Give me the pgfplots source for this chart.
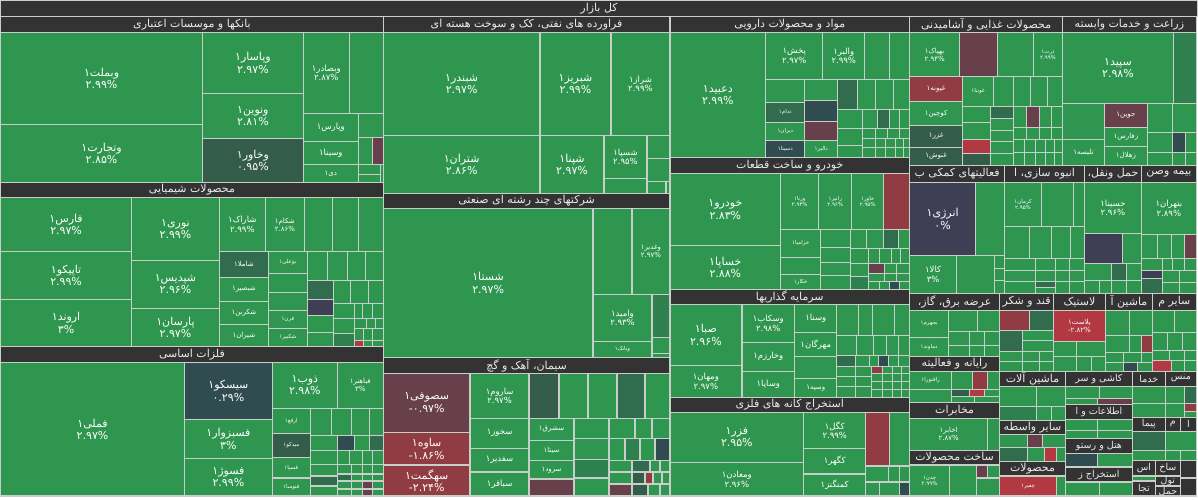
\documentclass[border=0pt]{standalone}
\usepackage{pgfplots}
\pgfplotsset{compat=1.18}
\usepackage{fontspec}
\newfontfamily\fa[Script=Arabic]{DejaVu Sans}
\TeXXeTstate=1
\definecolor{g}{RGB}{47,150,80}
\definecolor{g2}{RGB}{46,128,78}
\definecolor{dg}{RGB}{50,108,78}
\definecolor{dg2}{RGB}{51,93,74}
\definecolor{sl}{RGB}{48,76,80}
\definecolor{nu}{RGB}{62,62,84}
\definecolor{mr}{RGB}{104,64,76}
\definecolor{rd}{RGB}{145,60,66}
\definecolor{rr}{RGB}{178,56,66}
\definecolor{hdr}{RGB}{51,51,51}
\definecolor{bord}{RGB}{200,206,200}
\tikzset{
  lab/.style={text=white, align=center, inner sep=0pt},
  hlab/.style={text=white!92!black, inner sep=0pt, font=\fa\fontsize{11}{13}\selectfont},
  hsm/.style={text=white!92!black, inner sep=0pt, font=\fa\fontsize{9.5}{11}\selectfont},
  big/.style={font=\fa\fontsize{11}{12.5}\selectfont},
  med/.style={font=\fa\fontsize{8.5}{9.5}\selectfont},
  sm/.style={font=\fa\fontsize{7}{8}\selectfont},
  xs/.style={font=\fa\fontsize{5.5}{6}\selectfont},
}
\pgfplotsset{tile/.style={draw=bord, line width=1.3pt, line cap=rect, line join=miter}}
\newcommand\Ta[5]{\addplot[tile,fill=#5] coordinates {(#1,#2) (#3,#2) (#3,#4) (#1,#4) (#1,#2)};}
\newcommand\Tn[7]{\Ta{#1}{#2}{#3}{#4}{#5}\node[lab,#7] at (axis cs:{(#1+#3)/2},{(#2+#4)/2}) {\beginR #6\endR};}
\newcommand\Tl[8]{\Ta{#1}{#2}{#3}{#4}{#5}\node[lab,#8] at (axis cs:{(#1+#3)/2},{(#2+#4)/2}) {\beginR #6\endR\\#7};}
\newcommand\Hd[5]{\Ta{#1}{#2}{#3}{#4}{hdr}\node[hlab] at (axis cs:{(#1+#3)/2},{(#2+#4)/2}) {\beginR #5\endR};}
\newcommand\Hs[5]{\Ta{#1}{#2}{#3}{#4}{hdr}\node[hsm] at (axis cs:{(#1+#3)/2},{(#2+#4)/2}) {\beginR #5\endR};}
\newcommand\mn{-\kern0pt}
\begin{document}
\begin{tikzpicture}
\begin{axis}[width=1198pt,height=499pt,scale only axis,xmin=0,xmax=1198,ymin=0,ymax=499,y dir=reverse,axis lines=none,clip=false]
\addplot[fill=white,draw=none] coordinates {(0,0) (1198,0) (1198,499) (0,499) (0,0)};
\Hd{0}{0}{1198}{16}{کل بازار}
% ---------------- column 1: banks
\Hd{0}{16}{383}{32}{بانکها و موسسات اعتباری}
\Tl{0}{32}{202}{124}{g}{وبملت۱}{۲.۹۹\%}{big}
\Tl{0}{124}{202}{182}{g}{وتجارت۱}{۲.۸۵\%}{big}
\Tl{202}{32}{303}{93}{g}{وپاسار۱}{۲.۹۷\%}{big}
\Tl{202}{93}{303}{138}{g}{ونوین۱}{۲.۸۱\%}{big}
\Tl{202}{138}{303}{182}{dg2}{وخاور۱}{۰.۹۵\%}{big}
\Tl{303}{32}{349}{113}{g}{وبصادر۱}{۲.۸۷\%}{med}
\Ta{349}{32}{383}{113}{g}
\Tn{303}{113}{358}{141}{g}{وپارس۱}{med}
\Tn{303}{141}{358}{164}{g}{وسینا۱}{med}
\Tn{303}{164}{358}{182}{g}{دی۱}{sm}
\Ta{358}{113}{383}{137}{g}
\Ta{358}{137}{372}{164}{g}
\Ta{372}{137}{383}{164}{mr}
\Ta{358}{164}{380}{174}{g}
\Ta{358}{174}{380}{182}{g}
\Ta{380}{164}{383}{182}{g}
% chemicals
\Hd{0}{182}{383}{197}{محصولات شیمیایی}
\Tl{0}{197}{131}{251}{g}{فارس۱}{۲.۹۷\%}{big}
\Tl{0}{251}{131}{299}{g}{تاپیکو۱}{۲.۹۹\%}{big}
\Tl{0}{299}{131}{346}{g}{اروند۱}{۳\%}{big}
\Tl{131}{197}{219}{260}{g}{نوری۱}{۲.۹۹\%}{big}
\Tl{131}{260}{219}{308}{g}{شپدیس۱}{۲.۹۶\%}{big}
\Tl{131}{308}{219}{346}{g}{پارسان۱}{۲.۹۷\%}{big}
\Tl{219}{197}{265}{251}{g}{شاراک۱}{۲.۹۹\%}{med}
\Tl{265}{197}{304}{251}{g}{شکام۱}{۲.۸۶\%}{sm}
\Ta{304}{197}{332}{251}{g}
\Ta{332}{197}{358}{251}{g}
\Ta{358}{197}{383}{251}{g}
\Tn{219}{251}{268}{277}{dg}{شاملا۱}{sm}
\Tn{219}{277}{268}{301}{g}{شبصیر۱}{sm}
\Tn{219}{301}{268}{324}{g}{شکربن۱}{sm}
\Tn{219}{324}{268}{346}{g}{شیران۱}{sm}
\Tn{268}{251}{307}{273}{g}{بوعلی۱}{xs}
\Ta{268}{273}{307}{292}{g}
\Ta{268}{292}{307}{310}{g}
\Tn{268}{310}{307}{328}{g}{قرن۱}{xs}
\Tn{268}{328}{307}{346}{g}{شکبیر۱}{xs}
\Ta{307}{251}{327}{280}{g} \Ta{327}{251}{347}{280}{g} \Ta{347}{251}{365}{280}{g} \Ta{365}{251}{383}{280}{g}
\Ta{307}{280}{333}{299}{dg} \Ta{333}{280}{350}{303}{g} \Ta{350}{280}{368}{303}{g} \Ta{368}{280}{383}{303}{g}
\Ta{307}{299}{333}{315}{nu}
\Ta{307}{315}{333}{332}{g}
\Ta{307}{332}{333}{346}{g}
\Ta{333}{303}{354}{318}{g} \Ta{354}{303}{362}{318}{g} \Ta{362}{303}{372}{318}{g} \Ta{372}{303}{383}{318}{g}
\Ta{333}{318}{354}{333}{g} \Ta{354}{318}{366}{328}{g} \Ta{366}{318}{375}{328}{g} \Ta{375}{318}{383}{328}{g}
\Ta{333}{333}{354}{346}{g2} \Ta{354}{328}{363}{340}{g} \Ta{363}{328}{372}{340}{g} \Ta{372}{328}{383}{340}{g}
\Ta{354}{340}{363}{346}{rr} \Ta{363}{340}{372}{346}{g} \Ta{372}{340}{383}{346}{g}
% metals
\Hd{0}{346}{383}{362}{فلزات اساسی}
\Tl{0}{362}{184}{496}{g}{فملی۱}{۲.۹۷\%}{big}
\Tl{184}{362}{272}{419}{sl}{سیسکو۱}{۰.۲۹\%}{big}
\Tl{184}{419}{272}{458}{g}{فسبزوار۱}{۳\%}{big}
\Tl{184}{458}{272}{496}{g}{فسوژ۱}{۲.۹۹\%}{big}
\Tl{272}{362}{337}{408}{g}{ذوب۱}{۲.۹۸\%}{big}
\Tl{337}{362}{383}{408}{g}{فباهنر۱}{۳\%}{sm}
\Tn{272}{408}{310}{433}{g}{ارفع۱}{xs}
\Tn{272}{433}{310}{457}{dg2}{میدکو۱}{xs}
\Tn{272}{457}{310}{478}{g}{فسپا۱}{xs}
\Tn{272}{478}{310}{496}{g}{فنوسا۱}{xs}
\Ta{310}{408}{331}{435}{g} \Ta{331}{408}{351}{435}{g} \Ta{351}{408}{369}{435}{g} \Ta{369}{408}{383}{435}{g}
\Ta{310}{435}{337}{450}{g} \Ta{337}{435}{354}{450}{sl} \Ta{354}{435}{369}{450}{g} \Ta{369}{435}{383}{450}{dg}
\Ta{310}{450}{337}{464}{g} \Ta{337}{450}{349}{464}{g} \Ta{349}{450}{362}{464}{g} \Ta{362}{450}{372}{464}{g} \Ta{372}{450}{383}{464}{g}
\Ta{310}{464}{337}{476}{g} \Ta{310}{476}{337}{486}{dg} \Ta{310}{486}{337}{496}{g}
\Ta{337}{464}{351}{474}{g} \Ta{351}{464}{362}{474}{g} \Ta{362}{464}{372}{474}{g} \Ta{372}{464}{383}{474}{g}
\Ta{337}{474}{351}{481}{dg} \Ta{351}{474}{362}{481}{g} \Ta{362}{474}{372}{481}{g} \Ta{372}{474}{383}{481}{g}
\Ta{337}{481}{351}{489}{g} \Ta{351}{481}{362}{489}{g} \Ta{362}{481}{372}{489}{mr} \Ta{372}{481}{383}{489}{g}
\Ta{337}{489}{351}{496}{g} \Ta{351}{489}{362}{496}{g} \Ta{362}{489}{372}{496}{mr} \Ta{372}{489}{383}{496}{g}
% ---------------- column 2: oil
\Hd{383}{16}{670}{32}{فراورده های نفتی، کک و سوخت هسته ای}
\Tl{383}{32}{540}{135}{g}{شبندر۱}{۲.۹۷\%}{big}
\Tl{383}{135}{540}{193}{g}{شتران۱}{۲.۸۶\%}{big}
\Tl{540}{32}{611}{135}{g}{شبریز۱}{۲.۹۹\%}{big}
\Tl{611}{32}{670}{135}{g}{شراز۱}{۲.۹۹\%}{med}
\Tl{540}{135}{604}{193}{g}{شپنا۱}{۲.۹۷\%}{big}
\Tl{604}{135}{647}{178}{g}{شسپا۱}{۲.۹۵\%}{med}
\Ta{647}{135}{670}{158}{g}
\Ta{647}{158}{670}{181}{g}
\Ta{604}{178}{647}{193}{g}
\Ta{647}{181}{666}{193}{g}
\Ta{666}{181}{670}{193}{g}
% multi-industry
\Hd{383}{193}{670}{208}{شرکتهای چند رشته ای صنعتی}
\Tl{383}{208}{593}{357}{g}{شستا۱}{۲.۹۷\%}{big}
\Ta{593}{208}{632}{294}{g}
\Tl{632}{208}{670}{294}{g}{وغدیر۱}{۲.۹۷\%}{sm}
\Tl{593}{294}{652}{341}{g}{وامید۱}{۲.۹۳\%}{med}
\Tn{593}{341}{652}{357}{g}{وبانک۱}{xs}
\Ta{652}{294}{670}{337}{g2}
\Ta{652}{337}{670}{353}{g}
\Ta{652}{353}{670}{357}{g}
% cement
\Hd{383}{357}{670}{373}{سیمان، آهک و گچ}
\Tl{383}{373}{470}{432}{mr}{سصوفی۱}{\mn۰.۹۷\%}{big}
\Tl{383}{432}{470}{465}{rd}{ساوه۱}{\mn۱.۸۶\%}{big}
\Tl{383}{465}{470}{496}{rd}{سهگمت۱}{\mn۲.۲۴\%}{big}
\Tl{470}{373}{529}{418}{g}{ساروم۱}{۲.۹۷\%}{med}
\Tn{470}{418}{529}{448}{g}{سخوز۱}{med}
\Tn{470}{448}{529}{472}{g}{سفدیر۱}{med}
\Tn{470}{472}{529}{496}{g}{سباقر۱}{med}
\Ta{529}{373}{559}{418}{dg2}
\Ta{559}{373}{588}{418}{g}
\Ta{588}{373}{617}{418}{g}
\Ta{617}{373}{645}{418}{dg}
\Ta{645}{373}{670}{418}{g}
\Tn{529}{418}{574}{440}{g}{سشرق۱}{sm}
\Tn{529}{440}{574}{460}{g}{سیتا۱}{sm}
\Tn{529}{460}{574}{479}{g}{سرود۱}{sm}
\Ta{529}{479}{574}{496}{mr}
\Ta{574}{418}{609}{438}{g}
\Ta{574}{438}{609}{459}{g}
\Ta{574}{459}{609}{478}{g2}
\Ta{574}{478}{609}{496}{g}
\Ta{609}{418}{635}{438}{g} \Ta{635}{418}{652}{438}{g} \Ta{652}{418}{670}{438}{g}
\Ta{609}{438}{625}{460}{g} \Ta{625}{438}{640}{460}{g2} \Ta{640}{438}{655}{460}{g} \Ta{655}{438}{670}{460}{sl}
\Ta{609}{460}{632}{472}{g} \Ta{632}{460}{650}{472}{dg} \Ta{650}{460}{660}{472}{g} \Ta{660}{460}{670}{472}{g}
\Ta{609}{472}{632}{484}{g} \Ta{632}{472}{645}{484}{dg2} \Ta{645}{472}{653}{484}{rd} \Ta{653}{472}{662}{484}{g} \Ta{662}{472}{670}{484}{g}
\Ta{609}{484}{632}{496}{mr} \Ta{632}{484}{648}{496}{dg2} \Ta{648}{484}{660}{496}{g} \Ta{660}{484}{670}{496}{g}
% ---------------- column 3: pharma
\Hd{670}{16}{910}{32}{مواد و محصولات دارویی}
\Tl{670}{32}{766}{157}{g}{دعبید۱}{۲.۹۹\%}{big}
\Tl{766}{32}{823}{79}{g}{پخش۱}{۲.۹۷\%}{med}
\Tl{823}{32}{865}{79}{g}{والبر۱}{۲.۹۹\%}{med}
\Ta{865}{32}{890}{79}{g}
\Ta{890}{32}{910}{79}{g}
\Ta{766}{79}{805}{102}{g}
\Tn{766}{102}{805}{122}{dg}{ددام۱}{xs}
\Tn{766}{122}{805}{140}{g}{دیران۱}{xs}
\Tn{766}{140}{805}{157}{sl}{دسینا۱}{xs}
\Ta{805}{79}{838}{100}{g}
\Ta{805}{100}{838}{121}{sl}
\Ta{805}{121}{838}{140}{mr}
\Tn{805}{140}{838}{157}{g}{دالبر۱}{xs}
\Ta{838}{79}{858}{109}{dg} \Ta{858}{79}{876}{109}{g} \Ta{876}{79}{894}{109}{g} \Ta{894}{79}{910}{109}{g}
\Ta{838}{109}{863}{128}{g} \Ta{863}{109}{878}{128}{g} \Ta{878}{109}{890}{128}{dg} \Ta{890}{109}{900}{128}{g} \Ta{900}{109}{910}{128}{g}
\Ta{838}{128}{863}{145}{g} \Ta{863}{128}{876}{138}{g} \Ta{876}{128}{888}{138}{g} \Ta{888}{128}{900}{138}{g} \Ta{900}{128}{910}{138}{g}
\Ta{863}{138}{876}{147}{g} \Ta{876}{138}{886}{147}{g} \Ta{886}{138}{896}{147}{g} \Ta{896}{138}{904}{147}{g} \Ta{904}{138}{910}{147}{g}
\Ta{838}{145}{863}{157}{g} \Ta{863}{147}{876}{157}{g} \Ta{876}{147}{886}{157}{g} \Ta{886}{147}{896}{157}{g} \Ta{896}{147}{904}{157}{g} \Ta{904}{147}{910}{157}{g}
% auto
\Hd{670}{157}{910}{173}{خودرو و ساخت قطعات}
\Tl{670}{173}{781}{245}{g}{خودرو۱}{۲.۸۳\%}{big}
\Tl{670}{245}{781}{289}{g}{خساپا۱}{۲.۸۸\%}{big}
\Tl{781}{173}{819}{229}{g}{ورنا۱}{۲.۹۴\%}{xs}
\Tl{819}{173}{852}{229}{g}{رانیز۱}{۲.۹۶\%}{xs}
\Tl{852}{173}{884}{229}{g}{خاور۱}{۲.۹۵\%}{xs}
\Ta{884}{173}{910}{229}{rd}
\Tn{781}{229}{821}{257}{g}{خزامیا۱}{xs}
\Ta{781}{257}{821}{274}{g}
\Tn{781}{274}{821}{289}{g}{خکار۱}{xs}
\Ta{821}{229}{851}{247}{g} \Ta{821}{247}{851}{262}{g} \Ta{821}{262}{851}{275}{g} \Ta{821}{275}{851}{289}{g}
\Ta{851}{229}{867}{248}{g} \Ta{867}{229}{884}{248}{g} \Ta{884}{229}{899}{248}{dg} \Ta{899}{229}{910}{248}{g}
\Ta{851}{248}{869}{263}{g} \Ta{869}{248}{880}{263}{g} \Ta{880}{248}{892}{263}{g} \Ta{892}{248}{901}{263}{g} \Ta{901}{248}{910}{263}{g}
\Ta{851}{263}{869}{276}{g} \Ta{869}{263}{885}{273}{mr} \Ta{885}{263}{897}{273}{g} \Ta{897}{263}{910}{273}{g}
\Ta{851}{276}{869}{289}{g2} \Ta{869}{273}{885}{281}{g} \Ta{885}{273}{897}{281}{g} \Ta{897}{273}{910}{281}{g}
\Ta{869}{281}{880}{289}{g} \Ta{880}{281}{890}{289}{g} \Ta{890}{281}{900}{289}{sl} \Ta{900}{281}{910}{289}{g}
% investment
\Hd{670}{289}{910}{304}{سرمایه گذاریها}
\Tl{670}{304}{742}{365}{g}{صبا۱}{۲.۹۶\%}{big}
\Tl{670}{365}{742}{397}{g}{ومهان۱}{۲.۹۷\%}{med}
\Tl{742}{304}{795}{342}{g}{وسکاب۱}{۲.۹۸\%}{med}
\Tn{742}{342}{795}{371}{g}{وخارزم۱}{med}
\Tn{742}{371}{795}{397}{g}{وساپا۱}{med}
\Tn{795}{304}{837}{332}{g}{وسنا۱}{med}
\Tn{795}{332}{837}{356}{g}{مهرگان۱}{med}
\Ta{795}{356}{837}{378}{g}
\Tn{795}{378}{837}{397}{g}{وسپه۱}{sm}
\Ta{837}{304}{859}{335}{g} \Ta{859}{304}{873}{335}{g} \Ta{873}{304}{895}{335}{g} \Ta{895}{304}{910}{335}{g}
\Ta{837}{335}{857}{355}{g} \Ta{857}{335}{874}{355}{g} \Ta{874}{335}{887}{355}{g} \Ta{887}{335}{899}{355}{g} \Ta{899}{335}{910}{355}{g}
\Ta{837}{355}{856}{366}{dg} \Ta{856}{355}{870}{366}{g} \Ta{870}{355}{879}{366}{g} \Ta{879}{355}{889}{366}{sl} \Ta{889}{355}{899}{366}{g} \Ta{899}{355}{910}{366}{g}
\Ta{837}{366}{856}{376}{g} \Ta{856}{366}{872}{376}{g} \Ta{872}{366}{883}{373}{rd} \Ta{883}{366}{893}{373}{g} \Ta{893}{366}{902}{373}{g} \Ta{902}{366}{910}{373}{g}
\Ta{837}{376}{856}{386}{g} \Ta{837}{386}{856}{397}{g} \Ta{856}{376}{872}{386}{g} \Ta{856}{386}{872}{397}{g}
\Ta{872}{373}{883}{381}{g} \Ta{883}{373}{893}{381}{g} \Ta{893}{373}{902}{381}{g} \Ta{902}{373}{910}{381}{g}
\Ta{872}{381}{883}{389}{g} \Ta{883}{381}{893}{389}{g} \Ta{893}{381}{902}{389}{g} \Ta{902}{381}{910}{389}{g}
\Ta{872}{389}{883}{397}{g} \Ta{883}{389}{893}{397}{g} \Ta{893}{389}{902}{397}{g} \Ta{902}{389}{910}{397}{g}
% mining
\Hd{670}{397}{910}{412}{استخراج کانه های فلزی}
\Tl{670}{412}{804}{462}{g}{فزر۱}{۲.۹۵\%}{big}
\Tl{670}{462}{804}{496}{g}{ومعادن۱}{۲.۹۶\%}{med}
\Tl{804}{412}{866}{448}{g}{کگل۱}{۲.۹۹\%}{med}
\Tn{804}{448}{866}{474}{g}{کگهر۱}{med}
\Tn{804}{474}{866}{496}{g}{کمنگنز۱}{med}
\Ta{866}{412}{890}{466}{rd}
\Ta{890}{412}{910}{466}{g}
\Ta{866}{466}{889}{482}{g} \Ta{889}{466}{900}{482}{g} \Ta{900}{466}{910}{482}{g}
\Ta{866}{482}{880}{496}{g} \Ta{880}{482}{900}{496}{g} \Ta{900}{482}{910}{496}{sl}
% ---------------- column 4: food
\Hd{910}{16}{1063}{32}{محصولات غذایی و آشامیدنی}
\Tl{910}{32}{960}{76}{g}{بهپاک۱}{۲.۹۴\%}{sm}
\Ta{960}{32}{998}{76}{mr}
\Ta{998}{32}{1034}{76}{g}
\Tl{1034}{32}{1063}{76}{g}{ذرت۱}{۲.۹۹\%}{xs}
\Tn{910}{76}{963}{101}{rd}{غپونه۱}{sm}
\Tn{910}{101}{963}{125}{g}{کوچین۱}{sm}
\Tn{910}{125}{963}{147}{dg2}{غزر۱}{sm}
\Tn{910}{147}{963}{165}{dg2}{غنوش۱}{sm}
\Tn{963}{76}{994}{106}{g}{غوبنا۱}{xs}
\Ta{994}{76}{1014}{106}{g} \Ta{1014}{76}{1031}{106}{g} \Ta{1031}{76}{1048}{106}{g} \Ta{1048}{76}{1063}{106}{g}
\Ta{963}{106}{991}{122}{g} \Ta{963}{122}{991}{139}{g} \Ta{963}{139}{991}{153}{rr} \Ta{963}{153}{991}{165}{dg2}
\Ta{991}{106}{1014}{118}{dg} \Ta{991}{118}{1014}{130}{g} \Ta{991}{130}{1014}{141}{g} \Ta{991}{141}{1014}{153}{g} \Ta{991}{153}{1014}{165}{g}
\Ta{1014}{106}{1027}{127}{g} \Ta{1027}{106}{1040}{127}{mr} \Ta{1040}{106}{1052}{127}{g} \Ta{1052}{106}{1063}{127}{g}
\Ta{1014}{127}{1027}{139}{g} \Ta{1027}{127}{1040}{139}{g} \Ta{1040}{127}{1052}{139}{g} \Ta{1052}{127}{1063}{139}{g}
\Ta{1014}{139}{1025}{152}{g} \Ta{1025}{139}{1036}{152}{g} \Ta{1036}{139}{1046}{152}{g} \Ta{1046}{139}{1055}{152}{g} \Ta{1055}{139}{1063}{152}{g}
\Ta{1014}{152}{1025}{165}{g} \Ta{1025}{152}{1036}{165}{g} \Ta{1036}{152}{1046}{165}{g} \Ta{1046}{152}{1055}{165}{g} \Ta{1055}{152}{1063}{165}{g}
% agriculture
\Hd{1063}{16}{1197}{32}{زراعت و خدمات وابسته}
\Tl{1063}{32}{1174}{103}{g}{سپید۱}{۲.۹۸\%}{big}
\Ta{1174}{32}{1197}{103}{g2}
\Ta{1063}{103}{1105}{139}{g}
\Tn{1063}{139}{1105}{165}{g}{تلیسه۱}{sm}
\Tn{1105}{103}{1148}{127}{mr}{جوین۱}{sm}
\Tn{1105}{127}{1148}{146}{g}{زفارس۱}{sm}
\Tn{1105}{146}{1148}{165}{g}{زهلال۱}{sm}
\Ta{1148}{103}{1173}{132}{g} \Ta{1173}{103}{1197}{132}{g}
\Ta{1148}{132}{1173}{152}{g} \Ta{1173}{132}{1186}{152}{sl} \Ta{1186}{132}{1197}{152}{g}
\Ta{1148}{152}{1173}{165}{g} \Ta{1173}{152}{1186}{165}{g} \Ta{1186}{152}{1197}{165}{g}
% row 2
\Hd{910}{165}{1005}{182}{فعالیتهای کمکی ب}
\Hd{1005}{165}{1085}{182}{انبوه سازی، ا}
\Hd{1085}{165}{1142}{182}{حمل ونقل،}
\Hd{1142}{165}{1197}{182}{بیمه وصن}
\Tl{910}{182}{976}{255}{nu}{انرژی۱}{۰\%}{big}
\Ta{976}{182}{1005}{255}{g}
\Tl{910}{255}{957}{293}{g}{کالا۱}{۳\%}{med}
\Ta{957}{255}{995}{293}{g}
\Ta{995}{255}{1005}{268}{g} \Ta{995}{268}{1005}{280}{g} \Ta{995}{280}{1005}{293}{g}
\Tl{1005}{182}{1042}{226}{g}{کرمان۱}{۲.۹۵\%}{xs}
\Ta{1042}{182}{1074}{226}{g} \Ta{1074}{182}{1085}{226}{g}
\Ta{1005}{226}{1030}{258}{g} \Ta{1030}{226}{1052}{258}{g} \Ta{1052}{226}{1071}{258}{g} \Ta{1071}{226}{1085}{258}{g}
\Ta{1005}{258}{1036}{270}{g} \Ta{1036}{258}{1056}{270}{g} \Ta{1056}{258}{1070}{270}{g} \Ta{1070}{258}{1085}{270}{g}
\Ta{1005}{270}{1036}{281}{g} \Ta{1036}{270}{1056}{281}{g} \Ta{1056}{270}{1070}{281}{g} \Ta{1070}{270}{1085}{281}{g}
\Ta{1005}{281}{1036}{293}{g} \Ta{1036}{281}{1056}{287}{dg} \Ta{1036}{287}{1056}{293}{g} \Ta{1056}{281}{1070}{293}{g} \Ta{1070}{281}{1085}{293}{g}
\Tl{1085}{182}{1142}{233}{g}{حسینا۱}{۲.۹۶\%}{med}
\Ta{1085}{233}{1123}{263}{nu} \Ta{1123}{233}{1142}{263}{g}
\Ta{1085}{263}{1112}{280}{g} \Ta{1112}{263}{1127}{280}{dg} \Ta{1127}{263}{1142}{280}{g}
\Ta{1085}{280}{1100}{293}{g} \Ta{1100}{280}{1112}{293}{g} \Ta{1112}{280}{1127}{293}{g} \Ta{1127}{280}{1142}{293}{g}
\Tl{1142}{182}{1197}{234}{g}{بتهران۱}{۲.۸۹\%}{med}
\Ta{1142}{234}{1158}{258}{g} \Ta{1158}{234}{1172}{258}{g} \Ta{1172}{234}{1185}{258}{g} \Ta{1185}{234}{1197}{258}{mr}
\Ta{1142}{258}{1163}{270}{g} \Ta{1163}{258}{1173}{270}{g} \Ta{1173}{258}{1185}{270}{g} \Ta{1185}{258}{1197}{270}{g}
\Ta{1142}{270}{1163}{278}{nu} \Ta{1142}{278}{1163}{293}{dg}
\Ta{1163}{270}{1180}{282}{g} \Ta{1180}{270}{1197}{282}{g} \Ta{1163}{282}{1180}{293}{g} \Ta{1180}{282}{1197}{293}{g}
% row 3
\Hd{910}{293}{1000}{310}{عرضه برق، گاز،}
\Hd{1000}{293}{1054}{310}{قند و شکر}
\Hd{1054}{293}{1106}{310}{لاستیک}
\Hd{1106}{293}{1153}{310}{ماشین آ}
\Hd{1153}{293}{1197}{310}{سایر م}
\Tn{910}{310}{949}{337}{g}{بجهرم۱}{xs}
\Tn{910}{337}{949}{356}{g}{دماوند۱}{xs}
\Ta{949}{310}{978}{331}{g} \Ta{978}{310}{1000}{331}{g}
\Ta{949}{331}{970}{345}{g} \Ta{970}{331}{985}{345}{g} \Ta{985}{331}{1000}{345}{g}
\Ta{949}{345}{970}{356}{g} \Ta{970}{345}{985}{356}{g} \Ta{985}{345}{1000}{356}{g}
\Hd{910}{356}{1000}{371}{رایانه و فعالیته}
\Tn{910}{371}{952}{389}{g}{رافنورا۱}{xs}
\Ta{952}{371}{973}{389}{g} \Ta{973}{371}{988}{389}{rd} \Ta{988}{371}{1000}{389}{g}
\Ta{910}{389}{952}{402}{g} \Ta{952}{389}{970}{396}{dg2} \Ta{970}{389}{985}{396}{rr} \Ta{985}{389}{1000}{396}{g}
\Ta{952}{396}{975}{402}{g} \Ta{975}{396}{1000}{402}{g}
\Hd{910}{402}{1000}{418}{مخابرات}
\Tl{910}{418}{988}{450}{g}{اخابر۱}{۲.۸۷\%}{sm}
\Ta{988}{418}{1000}{450}{g}
\Hd{910}{450}{1000}{465}{ساخت محصولات}
\Tl{910}{465}{950}{496}{g}{چدن۱}{۲.۹۹\%}{xs}
\Ta{950}{465}{977}{496}{g} \Ta{977}{465}{988}{478}{mr} \Ta{988}{465}{1000}{478}{g} \Ta{977}{478}{1000}{496}{g}
\Ta{1000}{310}{1030}{330}{rd} \Ta{1030}{310}{1054}{330}{dg}
\Ta{1000}{330}{1023}{351}{dg} \Ta{1023}{330}{1054}{340}{g} \Ta{1023}{340}{1054}{351}{g}
\Ta{1000}{351}{1023}{361}{g} \Ta{1000}{361}{1023}{371}{g} \Ta{1023}{351}{1040}{361}{g} \Ta{1040}{351}{1054}{361}{g} \Ta{1023}{361}{1040}{371}{g} \Ta{1040}{361}{1054}{371}{g}
\Tl{1054}{310}{1106}{341}{rr}{پلاست۱}{\mn۲.۸۲\%}{sm}
\Ta{1054}{341}{1077}{356}{g} \Ta{1077}{341}{1106}{356}{g}
\Ta{1054}{356}{1077}{371}{g} \Ta{1077}{356}{1092}{371}{g} \Ta{1092}{356}{1106}{371}{g}
\Ta{1106}{310}{1130}{335}{g} \Ta{1130}{310}{1153}{335}{g}
\Ta{1106}{335}{1130}{352}{g} \Ta{1130}{335}{1142}{352}{g} \Ta{1142}{335}{1153}{352}{rd}
\Ta{1106}{352}{1124}{362}{g} \Ta{1124}{352}{1142}{362}{g} \Ta{1142}{352}{1153}{362}{g}
\Ta{1106}{362}{1124}{371}{g} \Ta{1124}{362}{1138}{371}{sl} \Ta{1138}{362}{1153}{371}{g}
\Ta{1153}{310}{1175}{332}{g} \Ta{1175}{310}{1197}{332}{g}
\Ta{1153}{332}{1168}{350}{g} \Ta{1168}{332}{1183}{350}{g} \Ta{1183}{332}{1197}{350}{g}
\Ta{1153}{350}{1170}{360}{g} \Ta{1170}{350}{1185}{360}{g} \Ta{1185}{350}{1197}{360}{g}
\Ta{1153}{360}{1172}{371}{rr} \Ta{1172}{360}{1185}{371}{g} \Ta{1185}{360}{1197}{371}{g}
% row 4
\Hd{1000}{371}{1066}{386}{ماشین آلات}
\Hs{1066}{371}{1133}{386}{کاشی و سر}
\Hs{1133}{371}{1166}{386}{خدما}
\Hs{1166}{371}{1197}{386}{منس}
\Ta{1000}{386}{1037}{406}{g} \Ta{1037}{386}{1066}{406}{g}
\Ta{1000}{406}{1037}{420}{g2} \Ta{1037}{406}{1052}{420}{g} \Ta{1052}{406}{1066}{420}{g}
\Hd{1000}{420}{1066}{434}{سایر واسطه}
\Ta{1000}{434}{1028}{447}{g} \Ta{1028}{434}{1043}{447}{mr} \Ta{1043}{434}{1066}{447}{g}
\Ta{1000}{447}{1028}{461}{dg} \Ta{1028}{447}{1045}{461}{g} \Ta{1045}{447}{1057}{461}{rr} \Ta{1057}{447}{1066}{461}{g}
\Hd{1000}{461}{1066}{476}{محصولات}
\Tn{1000}{476}{1057}{496}{rr}{چفیر۱}{xs}
\Ta{1057}{476}{1066}{496}{g}
\Ta{1066}{386}{1100}{398}{g} \Ta{1100}{386}{1133}{398}{g}
\Ta{1066}{398}{1098}{404}{g} \Ta{1098}{398}{1133}{404}{mr}
\Hs{1066}{404}{1133}{419}{اطلاعات و ا}
\Ta{1066}{419}{1098}{430}{g} \Ta{1098}{419}{1133}{430}{g} \Ta{1066}{430}{1098}{438}{g} \Ta{1098}{430}{1133}{438}{g}
\Hs{1066}{438}{1133}{453}{هتل و رستو}
\Ta{1066}{453}{1098}{467}{sl} \Ta{1098}{453}{1133}{467}{g}
\Hs{1066}{467}{1133}{482}{استخراج ز}
\Ta{1066}{482}{1100}{496}{g} \Ta{1100}{482}{1133}{496}{g}
\Ta{1133}{386}{1166}{403}{g} \Ta{1133}{403}{1166}{417}{g}
\Hs{1133}{417}{1166}{431}{پیما}
\Ta{1133}{431}{1166}{450}{dg} \Ta{1133}{450}{1166}{460}{g}
\Hs{1133}{460}{1156}{476}{اس}
\Ta{1133}{476}{1156}{481}{g}
\Hs{1133}{481}{1156}{496}{تجا}
\Hs{1156}{460}{1181}{476}{ساخ}
\Hs{1156}{476}{1181}{486}{تول}
\Hs{1156}{486}{1181}{496}{حمل}
\Ta{1166}{386}{1185}{403}{g} \Ta{1185}{386}{1197}{403}{dg}
\Ta{1166}{403}{1185}{417}{g} \Ta{1185}{403}{1197}{411}{rd} \Ta{1185}{411}{1197}{417}{g}
\Hs{1166}{417}{1181}{431}{م}
\Hs{1181}{417}{1197}{431}{ا}
\Ta{1166}{431}{1197}{450}{g} \Ta{1166}{450}{1181}{460}{g} \Ta{1181}{450}{1197}{460}{g}
\Hs{1181}{460}{1197}{478}{}
\Hs{1181}{478}{1197}{496}{}
\end{axis}
\end{tikzpicture}
\end{document}
